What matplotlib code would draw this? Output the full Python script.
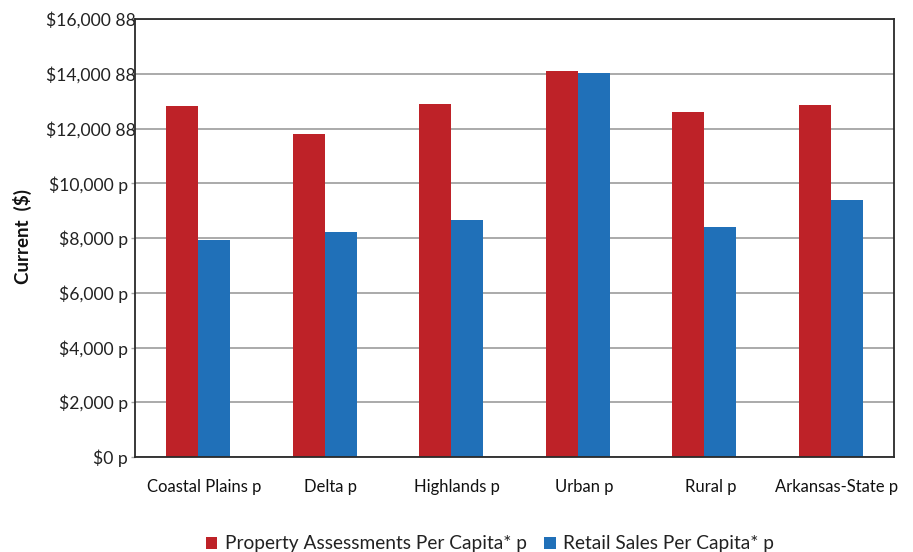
import matplotlib
matplotlib.use("Agg")
import matplotlib.pyplot as plt
import matplotlib.transforms as mtransforms
import numpy as np

regions = ["Coastal Plains p", "Delta p", "Highlands p", "Urban p", "Rural p", "Arkansas-State p"]
property_assessments = [12820, 11800, 12900, 14100, 12600, 12860]
retail_sales = [7930, 8220, 8660, 14030, 8400, 9390]
ytick_values = [0, 2000, 4000, 6000, 8000, 10000, 12000, 14000, 16000]
ytick_labels = ["$0 p", "$2,000 p", "$4,000 p", "$6,000 p", "$8,000 p",
                "$10,000 p", "$12,000 88", "$14,000 88", "$16,000 88"]
series_names = ["Property Assessments Per Capita* p", "Retail Sales Per Capita* p"]

RED = "#BE2228"
BLUE = "#2070B8"

plt.rcParams["font.family"] = ["Lato", "DejaVu Sans"]

fig = plt.figure(figsize=(9.13, 5.52), dpi=100)
ax = fig.add_axes([135 / 913, 95 / 552, 759 / 913, 438 / 552])

x = np.arange(len(regions))
w = 0.253
ax.bar(x - w / 2, property_assessments, width=w, color=RED, zorder=3, label=series_names[0])
ax.bar(x + w / 2, retail_sales, width=w, color=BLUE, zorder=3, label=series_names[1])

ax.set_xlim(-0.5, len(regions) - 0.5)
ax.set_ylim(0, 16000)
ax.set_yticks(ytick_values)
ax.set_yticklabels(ytick_labels, fontsize=12.6, color="#222222")
ax.set_xticks(x)
ax.set_xticklabels(regions, fontsize=12, color="#111111")

ax.yaxis.grid(True, color="#a4a4a4", linewidth=1.3, zorder=0)
ax.tick_params(axis="y", length=3, width=1.0, color="#a4a4a4", pad=2)
ax.tick_params(axis="x", length=0, pad=16)

for side in ["left", "right", "top", "bottom"]:
    ax.spines[side].set_color("#2a2a2a")
    ax.spines[side].set_linewidth(1.3)
    ax.spines[side].set_zorder(4)

# Shift the wider "88" labels to the right so the dollar amounts line up
for lbl in ax.get_yticklabels():
    if lbl.get_text().endswith("88"):
        lbl.set_transform(lbl.get_transform() + mtransforms.ScaledTranslation(8 / 100, 0, fig.dpi_scale_trans))
for lbl in ax.get_xticklabels():
    lbl.set_transform(lbl.get_transform() + mtransforms.ScaledTranslation(6 / 100, 0, fig.dpi_scale_trans))

fig.text(22 / 913, 1 - 236 / 552, "Current  ($)", rotation=90, ha="center", va="center",
         fontsize=13.5, fontweight="bold", color="#111111")

fig.legend(loc="center", bbox_to_anchor=(490 / 913, 8 / 552), ncol=2, frameon=False,
           fontsize=13.8, handlelength=0.6, handleheight=0.6, handletextpad=0.4,
           columnspacing=0.9, labelcolor="#222222")

fig.savefig("out.png", dpi=100)
